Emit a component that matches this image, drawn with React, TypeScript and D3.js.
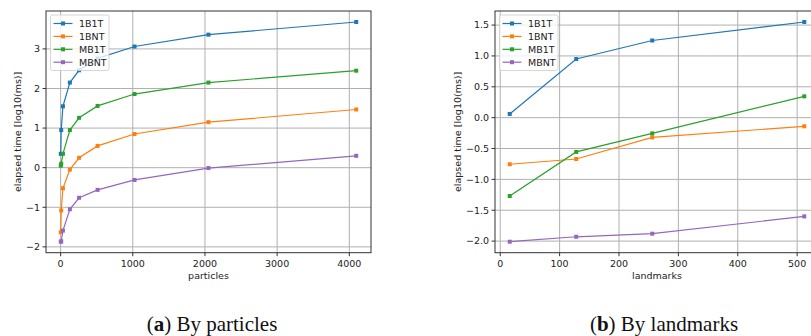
import React, { useEffect, useRef } from 'react';
import * as d3 from 'd3';

// series names and colours (matplotlib tab10)
const seriesNames = ['1B1T', '1BNT', 'MB1T', 'MBNT'];
const seriesColors = ['#1f77b4', '#ff7f0e', '#2ca02c', '#9467bd'];

// (a) by particles
const particles = [2, 8, 32, 128, 256, 512, 1024, 2048, 4096];
const p1B1T = [0.35, 0.95, 1.55, 2.15, 2.46, 2.76, 3.06, 3.36, 3.68];
const p1BNT = [-1.63, -1.08, -0.52, -0.05, 0.25, 0.55, 0.85, 1.15, 1.47];
const pMB1T = [0.05, 0.1, 0.35, 0.95, 1.26, 1.56, 1.86, 2.15, 2.45];
const pMBNT = [-1.87, -1.86, -1.59, -1.05, -0.76, -0.56, -0.31, -0.01, 0.3];
const particleTicks = [0, 1000, 2000, 3000, 4000];
const particleYTicks = [-2, -1, 0, 1, 2, 3];

// (b) by landmarks
const landmarks = [16, 128, 256, 512];
const l1B1T = [0.06, 0.95, 1.25, 1.55];
const l1BNT = [-0.755, -0.67, -0.32, -0.14];
const lMB1T = [-1.27, -0.555, -0.255, 0.345];
const lMBNT = [-2.01, -1.93, -1.88, -1.6];
const landmarkTicks = [0, 100, 200, 300, 400, 500];
const landmarkYTicks = [-2, -1.5, -1, -0.5, 0, 0.5, 1, 1.5];

const W = 811;
const H = 336;
const FONT = 'DejaVu Sans, sans-serif';

type Panel = {
  x: number[];
  ys: number[][];
  xTicks: number[];
  yTicks: number[];
  yFmt: (v: number) => string;
  xLabel: string;
  left: number;
  right: number;
  caption: string;
  captionX: number;
};

const minusFmt = (f: (v: number) => string) => (v: number) => f(v).replace('-', '\u2212');

const panels: Panel[] = [
  {
    x: particles,
    ys: [p1B1T, p1BNT, pMB1T, pMBNT],
    xTicks: particleTicks,
    yTicks: particleYTicks,
    yFmt: minusFmt(d3.format('d')),
    xLabel: 'particles',
    left: 46,
    right: 371,
    caption: 'a',
    captionX: 212,
  },
  {
    x: landmarks,
    ys: [l1B1T, l1BNT, lMB1T, lMBNT],
    xTicks: landmarkTicks,
    yTicks: landmarkYTicks,
    yFmt: minusFmt(d3.format('.1f')),
    xLabel: 'landmarks',
    left: 495,
    right: 819,
    caption: 'b',
    captionX: 664,
  },
];

const captionText = ['By particles', 'By landmarks'];

function padded(ext: [number, number]): [number, number] {
  const m = (ext[1] - ext[0]) * 0.05;
  return [ext[0] - m, ext[1] + m];
}

export default function App() {
  const ref = useRef<SVGSVGElement>(null);

  useEffect(() => {
    const svg = d3.select(ref.current);
    svg.selectAll('*').remove();
    const top = 11;
    const bottom = 252.7;

    panels.forEach((p, pi) => {
      const allY = p.ys.flat();
      const x = d3.scaleLinear().domain(padded(d3.extent(p.x) as [number, number])).range([p.left, p.right]);
      const y = d3.scaleLinear().domain(padded(d3.extent(allY) as [number, number])).range([bottom, top]);
      const g = svg.append('g');

      // grid
      g.append('g')
        .selectAll('line.vx')
        .data(p.xTicks)
        .enter()
        .append('line')
        .attr('x1', d => x(d)).attr('x2', d => x(d))
        .attr('y1', top).attr('y2', bottom)
        .attr('stroke', '#b0b0b0').attr('stroke-width', 1);
      g.append('g')
        .selectAll('line.hy')
        .data(p.yTicks)
        .enter()
        .append('line')
        .attr('x1', p.left).attr('x2', p.right)
        .attr('y1', d => y(d)).attr('y2', d => y(d))
        .attr('stroke', '#b0b0b0').attr('stroke-width', 1);

      // lines + markers
      p.ys.forEach((vals, si) => {
        const pts = vals.map((v, i) => [x(p.x[i]), y(v)] as [number, number]);
        g.append('path')
          .attr('d', d3.line()(pts))
          .attr('fill', 'none')
          .attr('stroke', seriesColors[si])
          .attr('stroke-width', 1.2);
        g.append('g')
          .selectAll('rect')
          .data(pts)
          .enter()
          .append('rect')
          .attr('x', d => d[0] - 2).attr('y', d => d[1] - 2)
          .attr('width', 4).attr('height', 4)
          .attr('fill', seriesColors[si]);
      });

      // frame
      g.append('rect')
        .attr('x', p.left).attr('y', top)
        .attr('width', p.right - p.left).attr('height', bottom - top)
        .attr('fill', 'none').attr('stroke', '#333').attr('stroke-width', 1);

      // x ticks
      const xt = g.append('g');
      p.xTicks.forEach(t => {
        xt.append('line').attr('x1', x(t)).attr('x2', x(t)).attr('y1', bottom).attr('y2', bottom + 3.5).attr('stroke', '#333');
        xt.append('text').attr('x', x(t)).attr('y', bottom + 14)
          .attr('text-anchor', 'middle').attr('font-family', FONT).attr('font-size', 9.5).attr('fill', '#222')
          .text(p.yFmt === undefined ? String(t) : String(t));
      });
      g.append('text').attr('x', (p.left + p.right) / 2).attr('y', bottom + 26)
        .attr('text-anchor', 'middle').attr('font-family', FONT).attr('font-size', 9.5).attr('fill', '#222')
        .text(p.xLabel);

      // y ticks
      p.yTicks.forEach(t => {
        g.append('line').attr('x1', p.left - 3.5).attr('x2', p.left).attr('y1', y(t)).attr('y2', y(t)).attr('stroke', '#333');
        g.append('text').attr('x', p.left - 6).attr('y', y(t)).attr('dy', '0.35em')
          .attr('text-anchor', 'end').attr('font-family', FONT).attr('font-size', 9.5).attr('fill', '#222')
          .text(p.yFmt(t));
      });
      const ylx = p.left - 29;
      g.append('text')
        .attr('transform', `translate(${pi === 0 ? 17.5 : 457.5},${(top + bottom) / 2}) rotate(-90)`)
        .attr('dy', '0.35em')
        .attr('text-anchor', 'middle').attr('font-family', FONT).attr('font-size', 9.5).attr('fill', '#222')
        .text('elapsed time [log10(ms)]');
      void ylx;

      // legend
      const lx = p.left + 4.5;
      const lg = g.append('g');
      lg.append('rect')
        .attr('x', lx).attr('y', 15).attr('width', 58.5).attr('height', 55.5).attr('rx', 2)
        .attr('fill', 'rgba(255,255,255,0.8)').attr('stroke', '#ccc').attr('stroke-width', 0.8);
      seriesNames.forEach((name, si) => {
        const ly = 23.5 + si * 12.9;
        lg.append('line').attr('x1', lx + 3).attr('x2', lx + 22).attr('y1', ly).attr('y2', ly)
          .attr('stroke', seriesColors[si]).attr('stroke-width', 1.2);
        lg.append('rect').attr('x', lx + 10.5).attr('y', ly - 2).attr('width', 4).attr('height', 4).attr('fill', seriesColors[si]);
        lg.append('text').attr('x', lx + 28.5).attr('y', ly).attr('dy', '0.35em')
          .attr('font-family', FONT).attr('font-size', 9.5).attr('fill', '#222').text(name);
      });

      // caption
      const cap = svg.append('text').attr('x', p.captionX).attr('y', 331)
        .attr('text-anchor', 'middle').attr('font-family', 'Liberation Serif, serif').attr('font-size', 21).attr('fill', '#111');
      cap.append('tspan').text('(');
      cap.append('tspan').attr('font-weight', 'bold').text(p.caption);
      cap.append('tspan').text(') ' + captionText[pi]);
    });
  }, []);

  return (
    <svg ref={ref} width={W} height={H} style={{ position: 'absolute', left: 0, top: 0, background: '#fff' }} />
  );
}
